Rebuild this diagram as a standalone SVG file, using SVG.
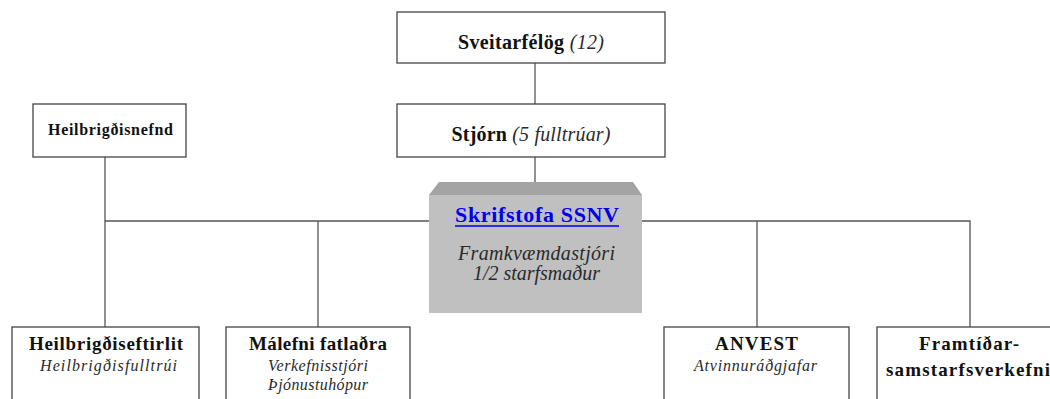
<svg xmlns="http://www.w3.org/2000/svg" width="1050" height="399" viewBox="0 0 1050 399">
<style>
.box{fill:#fff;stroke:#444;stroke-width:1.3}
.ln{stroke:#555;stroke-width:1.3;fill:none}
text{font-family:"Liberation Serif","Times New Roman",serif;text-anchor:middle;fill:#111}
.b{font-weight:bold}
.i{font-style:italic;fill:#2a2a2a}
.link{fill:#0000ee;font-weight:bold}
</style>
<rect width="1050" height="399" fill="#fff"/>
<g id="connectors">
<line class="ln" x1="535" y1="63" x2="535" y2="104"/>
<line class="ln" x1="535" y1="157" x2="535" y2="182"/>
<line class="ln" x1="105" y1="157" x2="105" y2="327"/>
<polyline class="ln" points="105,221 429,221"/>
<polyline class="ln" points="642,221 970,221 970,327"/>
<line class="ln" x1="318" y1="221" x2="318" y2="327"/>
<line class="ln" x1="757" y1="221" x2="757" y2="327"/>
</g>
<g id="sveitarfelog">
<rect class="box" x="397" y="12" width="268" height="51"/>
<text x="531" y="49" font-size="20" textLength="146" lengthAdjust="spacing"><tspan class="b">Sveitarfélög</tspan> <tspan class="i">(12)</tspan></text>
</g>
<g id="stjorn">
<rect class="box" x="397" y="104" width="268" height="53"/>
<text x="531" y="141" font-size="20" textLength="159" lengthAdjust="spacing"><tspan class="b">Stjórn</tspan> <tspan class="i">(5 fulltrúar)</tspan></text>
</g>
<g id="heilbrigdisnefnd">
<rect class="box" x="33" y="104" width="153" height="53"/>
<text class="b" x="110.5" y="135" font-size="16" textLength="125" lengthAdjust="spacing">Heilbrigðisnefnd</text>
</g>
<g id="skrifstofa">
<polygon points="439,182 633,182 642,195 429,195" fill="#a4a4a4"/>
<rect x="429" y="195" width="213" height="118" fill="#c0c0c0"/>
<text class="link" x="537" y="222" font-size="22" textLength="164" lengthAdjust="spacing">Skrifstofa SSNV</text>
<line x1="455" y1="226" x2="619" y2="226" stroke="#0000ee" stroke-width="1.5"/>
<text class="i" x="536.5" y="260" font-size="20" textLength="157" lengthAdjust="spacing">Framkvæmdastjóri</text>
<text class="i" x="536.5" y="280" font-size="20" textLength="127" lengthAdjust="spacing">1/2 starfsmaður</text>
</g>
<g id="heilbrigdiseftirlit">
<rect class="box" x="12" y="327" width="187" height="80"/>
<text class="b" x="106" y="350" font-size="19" textLength="154" lengthAdjust="spacing">Heilbrigðiseftirlit</text>
<text class="i" x="108.5" y="371" font-size="16" textLength="137" lengthAdjust="spacing">Heilbrigðisfulltrúi</text>
</g>
<g id="malefni">
<rect class="box" x="226" y="327" width="184" height="80"/>
<text class="b" x="318" y="350" font-size="19" textLength="138" lengthAdjust="spacing">Málefni fatlaðra</text>
<text class="i" x="318" y="371" font-size="16" textLength="100" lengthAdjust="spacing">Verkefnisstjóri</text>
<text class="i" x="318" y="390" font-size="16" textLength="100" lengthAdjust="spacing">Þjónustuhópur</text>
</g>
<g id="anvest">
<rect class="box" x="664" y="327" width="185" height="80"/>
<text class="b" x="756.5" y="350" font-size="19" textLength="83" lengthAdjust="spacing">ANVEST</text>
<text class="i" x="755.5" y="371" font-size="16" textLength="123" lengthAdjust="spacing">Atvinnuráðgjafar</text>
</g>
<g id="framtidar">
<rect class="box" x="877" y="327" width="190" height="80"/>
<text class="b" x="969" y="350" font-size="19" textLength="100" lengthAdjust="spacing">Framtíðar-</text>
<text class="b" x="968" y="376" font-size="19" textLength="164" lengthAdjust="spacing">samstarfsverkefni</text>
</g>
</svg>
